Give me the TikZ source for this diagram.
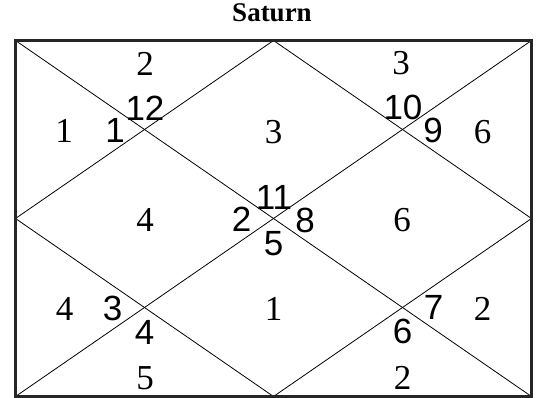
\documentclass[tikz,border=0pt]{standalone}
\usepackage{fontspec}
\setmainfont{Liberation Serif}
\newfontfamily\plfont{Liberation Sans}
\tikzset{
  frm/.style={draw=black!85, line width=2.2pt},
  ln/.style={draw, line width=0.8pt},
  hno/.style={inner sep=0pt, font=\fontsize{35}{35}\selectfont},
  pno/.style={inner sep=0pt, font=\plfont\fontsize{35}{35}\selectfont},
  ttl/.style={inner sep=0pt, font=\bfseries\fontsize{27}{27}\selectfont}
}

\begin{document}
\begin{tikzpicture}[x=1pt, y=-1pt]
		\useasboundingbox (0,0) rectangle (538,398);
		\coordinate (nw) at (15.5,40.5);
		\coordinate (ne) at (531.5,40.5);
		\coordinate (se) at (531.5,396.5);
		\coordinate (sw) at (15.5,396.5);
		\coordinate (n) at (273.5,40.5);
		\coordinate (e) at (531.5,218.5);
		\coordinate (s) at (273.5,396.5);
		\coordinate (w) at (15.5,218.5);
		\node[ttl] (title) at (272,12.5) {Saturn};
		\draw[ln] (nw) -- (se);
		\draw[ln] (ne) -- (sw);
		\draw[ln] (n) -- (e) -- (s) -- (w) -- cycle;
		\draw[frm] (nw) rectangle (se);
		% house numbers
		\node[hno] (h1) at (145,63.5) {2};
		\node[hno] (h2) at (64,131) {1};
		\node[hno] (h3) at (64.5,309) {4};
		\node[hno] (h4) at (145,378) {5};
		\node[hno] (h5) at (273.5,309) {1};
		\node[hno] (h6) at (402.5,378) {2};
		\node[hno] (h7) at (482.5,309) {2};
		\node[hno] (h8) at (402,220) {6};
		\node[hno] (h9) at (482.5,132) {6};
		\node[hno] (h10) at (401,63.5) {3};
		\node[hno] (h11) at (273.5,132) {3};
		\node[hno] (h12) at (145,220) {4};
		% sign numbers
		\node[pno] (p12) at (145,108.5) {12};
		\node[pno] (p1) at (115,130) {1};
		\node[pno] (p10) at (403,107.5) {10};
		\node[pno] (p9) at (433,130.5) {9};
		\node[pno] (p11) at (274,197) {11};
		\node[pno] (p2) at (241.5,219.5) {2};
		\node[pno] (p8) at (305,220) {8};
		\node[pno] (p5) at (273.5,243.5) {5};
		\node[pno] (p3) at (112.5,308.5) {3};
		\node[pno] (p4) at (144.5,332.5) {4};
		\node[pno] (p7) at (433.5,307.5) {7};
		\node[pno] (p6) at (402.5,331.5) {6};
	\end{tikzpicture}
\end{document}
